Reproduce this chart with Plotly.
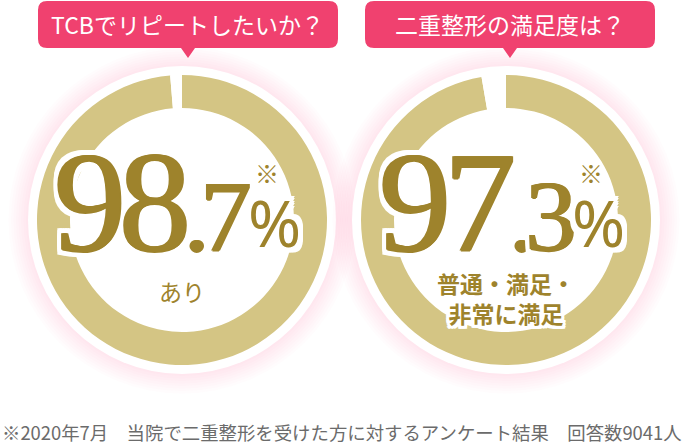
import plotly.graph_objects as go

W, H = 686, 444

# ---- data ----
questions = ["TCBでリピートしたいか？", "二重整形の満足度は？"]
rates = [98.7, 97.3]
sub_labels = ["あり", "普通・満足・<br>非常に満足"]
footnote = "※2020年7月　当院で二重整形を受けた方に対するアンケート結果　回答数9041人"

# ---- style / layout ----
centers_x = [182, 506]
center_y = 220
R_OUT = 145
R_IN = 112
R_WHITE = 154
GOLD = "#d4c584"
TEXT_GOLD = "#9e832c"
PINK = "#f0416f"
bubble_x = [(38, 338), (365, 655)]
tip_x = [188, 510]

def X(px):
    return px / W

def Y(py):
    return 1 - py / H

fig = go.Figure()
shapes = []
annotations = []

def make_outline(w, thicken=0.0):
    parts = []
    if thicken:
        for dx, dy in [(thicken, 0), (-thicken, 0), (0, thicken / 2)]:
            parts.append(f"{dx}px {dy}px 0 {TEXT_GOLD}")
    for dx, dy in [(w, 0), (-w, 0), (0, w), (0, -w), (w, w), (-w, -w), (w, -w), (-w, w),
                   (w, w // 2), (-w, w // 2), (w, -w // 2), (-w, -w // 2),
                   (w // 2, w), (-w // 2, w), (w // 2, -w), (-w // 2, -w)]:
        parts.append(f"{dx}px {dy}px 0 #fff")
    return ", ".join(parts)

outline_big = make_outline(5, thicken=1.2)
outline_pct = make_outline(5)
outline_small = make_outline(3)

for i, r in enumerate(rates):
    cx = centers_x[i]
    # glow
    for k in range(8):
        rr = R_WHITE + 2 + k * 2.5
        shapes.append(dict(type="circle", xref="paper", yref="paper", layer="below",
                           x0=X(cx - rr), x1=X(cx + rr), y0=Y(center_y + rr), y1=Y(center_y - rr),
                           fillcolor="rgba(240,90,130,0.02)", line=dict(width=0)))
    shapes.append(dict(type="circle", xref="paper", yref="paper", layer="below",
                       x0=X(cx - R_WHITE), x1=X(cx + R_WHITE),
                       y0=Y(center_y + R_WHITE), y1=Y(center_y - R_WHITE),
                       fillcolor="#ffffff", line=dict(width=0)))
    fig.add_trace(go.Pie(
        values=[r, 100 - r], labels=["yes", "no"],
        marker=dict(colors=[GOLD, "#ffffff"], line=dict(width=0)),
        hole=R_IN / R_OUT, sort=False, direction="clockwise", rotation=0,
        textinfo="none", hoverinfo="skip", showlegend=False,
        domain=dict(x=[X(cx - R_OUT), X(cx + R_OUT)], y=[Y(center_y + R_OUT), Y(center_y - R_OUT)]),
    ))
    # bubble
    bx0, bx1 = bubble_x[i]
    by0, by1, rad = 1, 48, 9
    path = (f"M {X(bx0+rad)},{Y(by0)} L {X(bx1-rad)},{Y(by0)} "
            f"Q {X(bx1)},{Y(by0)} {X(bx1)},{Y(by0+rad)} L {X(bx1)},{Y(by1-rad)} "
            f"Q {X(bx1)},{Y(by1)} {X(bx1-rad)},{Y(by1)} "
            f"L {X(tip_x[i]+7)},{Y(by1)} L {X(tip_x[i])},{Y(by1+10)} L {X(tip_x[i]-7)},{Y(by1)} "
            f"L {X(bx0+rad)},{Y(by1)} Q {X(bx0)},{Y(by1)} {X(bx0)},{Y(by1-rad)} "
            f"L {X(bx0)},{Y(by0+rad)} Q {X(bx0)},{Y(by0)} {X(bx0+rad)},{Y(by0)} Z")
    shapes.append(dict(type="path", xref="paper", yref="paper", path=path,
                       fillcolor=PINK, line=dict(width=0), layer="above"))
    annotations.append(dict(text=questions[i], x=X((bx0 + bx1) / 2), y=Y(24), xref="paper", yref="paper",
                            xanchor="center", yanchor="middle", showarrow=False,
                            font=dict(family="Noto Sans CJK JP", size=23, color="#ffffff")))
    # big number
    s = f"{r:.1f}"
    ip, dp = s.split(".")
    annotations.append(dict(
        text=(f"<span style='letter-spacing:-7px'>{ip}</span>"
              f"<span style='font-size:102px;letter-spacing:-9px'>.</span>"
              f"<span style='font-size:102px;letter-spacing:-3px'>{dp}</span>"),
        x=X(cx + 70), y=Y(284), xref="paper", yref="paper", xanchor="right", yanchor="bottom",
        showarrow=False,
        font=dict(family="Liberation Serif", size=144, color=TEXT_GOLD, shadow=outline_big)))
    annotations.append(dict(
        text="%", x=X(cx + 64), y=Y(268), xref="paper", yref="paper", xanchor="left", yanchor="bottom",
        showarrow=False,
        font=dict(family="Noto Sans", size=64, color=TEXT_GOLD, shadow=outline_pct)))
    annotations.append(dict(
        text="※", x=X(cx + 85), y=Y(172), xref="paper", yref="paper", xanchor="center", yanchor="middle",
        showarrow=False, font=dict(family="Noto Sans CJK JP", size=24, color=TEXT_GOLD)))
    # sub label
    annotations.append(dict(
        text=sub_labels[i], x=X(cx), y=Y(291 if i == 0 else 298), xref="paper", yref="paper",
        xanchor="center", yanchor="middle", showarrow=False,
        font=dict(family="Noto Sans CJK JP", size=23, color=TEXT_GOLD,
                  weight="normal" if i == 0 else "bold", shadow=outline_small if i == 1 else "none")))

annotations.append(dict(text=footnote, x=X(1), y=Y(432), xref="paper", yref="paper",
                        xanchor="left", yanchor="middle", showarrow=False, borderpad=0,
                        font=dict(family="Noto Sans CJK JP", size=18.4, color="#6b6b6b")))

fig.update_layout(width=W, height=H, margin=dict(l=0, r=0, t=0, b=0),
                  paper_bgcolor="#ffffff", plot_bgcolor="#ffffff",
                  shapes=shapes, annotations=annotations)
fig.write_html("out.html", config={"displayModeBar": False},
               post_script="document.body.style.margin='0';")
